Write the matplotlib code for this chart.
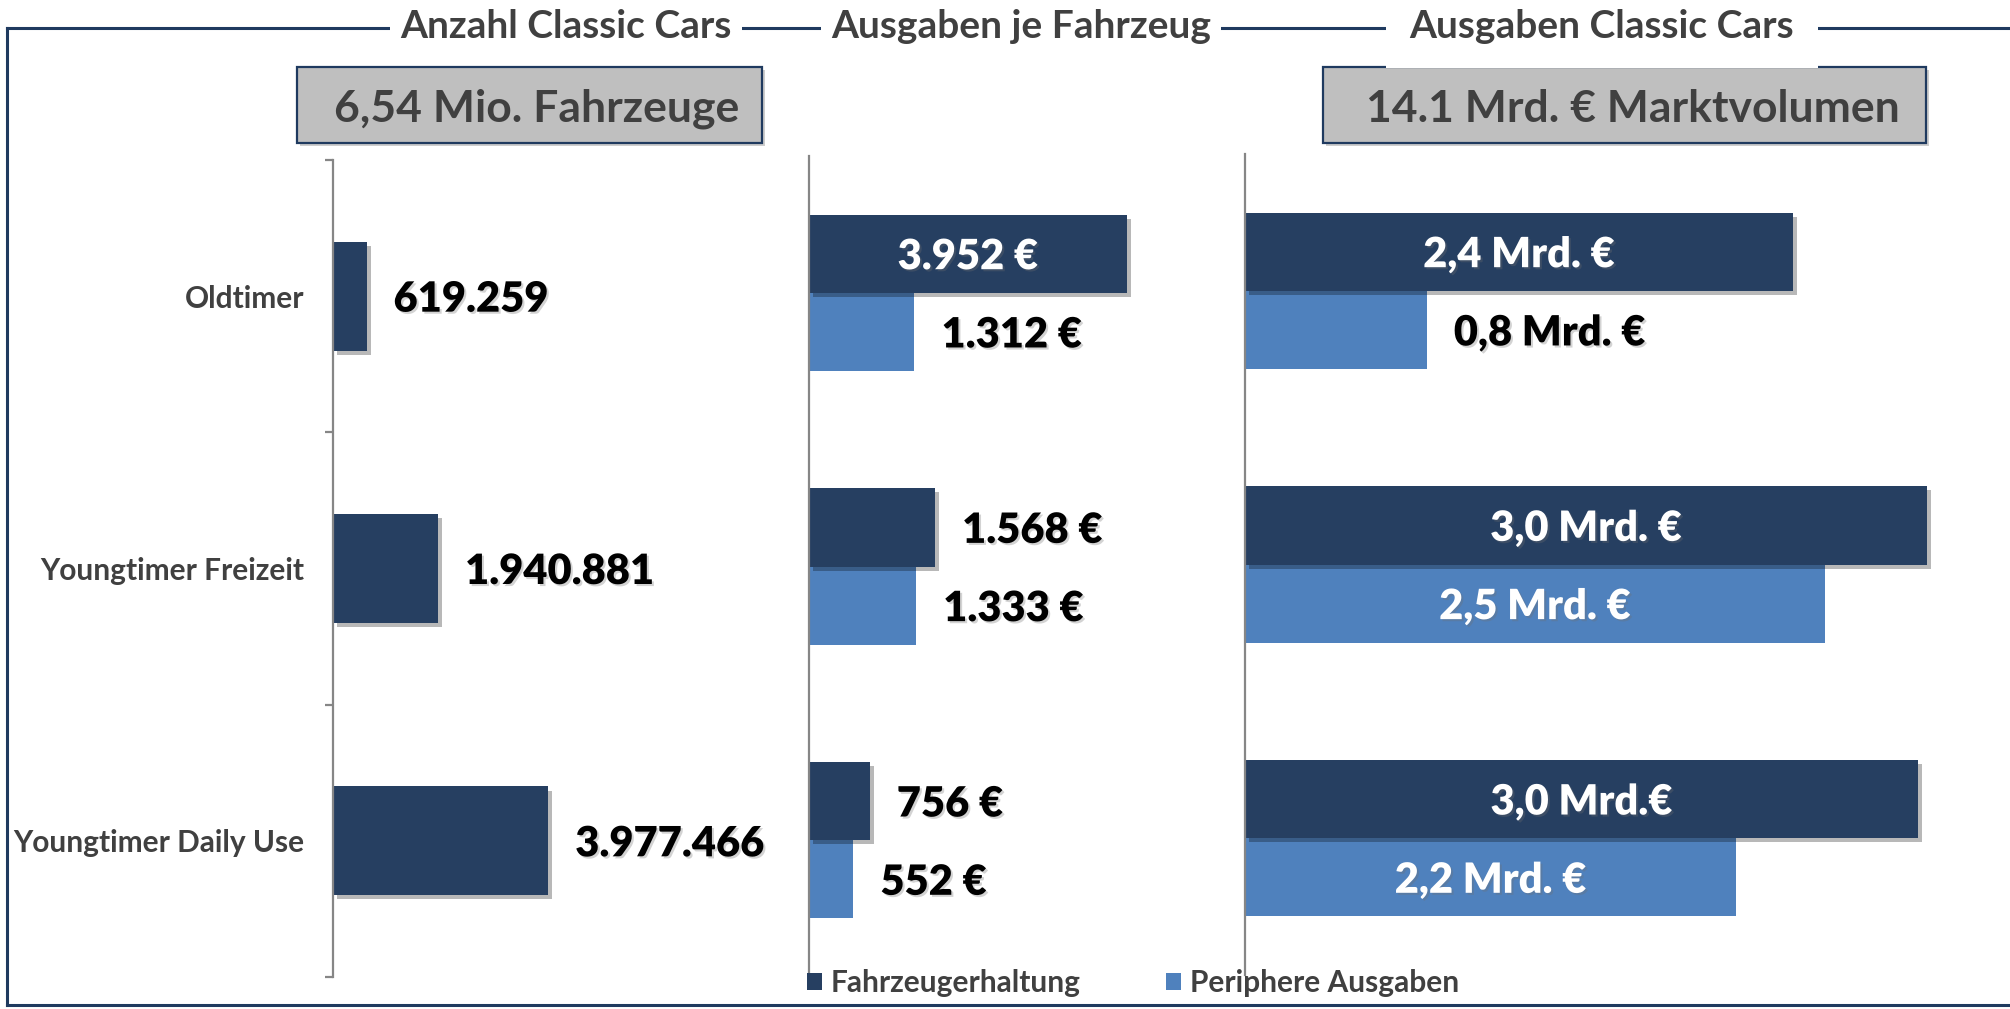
import matplotlib
matplotlib.use("Agg")
import matplotlib.pyplot as plt
from matplotlib import patheffects as pe
from matplotlib.patches import Rectangle, Patch
from matplotlib.lines import Line2D

plt.rcParams['font.family'] = ['Lato', 'DejaVu Sans']

# ---------------- data ----------------
categories = ["Oldtimer", "Youngtimer Freizeit", "Youngtimer Daily Use"]
vehicle_counts = [619259, 1940881, 3977466]

spend_per_vehicle_upkeep = [3952, 1568, 756]        # Fahrzeugerhaltung (EUR)
spend_per_vehicle_periph = [1312, 1333, 552]        # Periphere Ausgaben (EUR)

market_upkeep = [2.41, 3.00, 2.96]                  # Mrd. EUR
market_periph = [0.80, 2.55, 2.16]                  # Mrd. EUR
market_upkeep_labels = ["2,4 Mrd. €", "3,0 Mrd. €", "3,0 Mrd.€"]
market_periph_labels = ["0,8 Mrd. €", "2,5 Mrd. €", "2,2 Mrd. €"]

panel_titles = ["Anzahl Classic Cars", "Ausgaben je Fahrzeug", "Ausgaben Classic Cars"]
box_texts = ["6,54 Mio. Fahrzeuge", "14.1 Mrd. € Marktvolumen"]
legend_labels = ["Fahrzeugerhaltung", "Periphere Ausgaben"]

# ---------------- style ----------------
DARK = "#263F61"
LIGHT = "#4F81BD"
GRAYTXT = "#404040"
FRAME = "#1F3A5F"
AXISGRAY = "#868686"
VAL_FS = 30
VAL_W = "heavy"

W, H = 2010, 1009
fig = plt.figure(figsize=(W / 100, H / 100), dpi=100)


def rect(x0, y0, x1, y1):
    return [x0 / W, 1 - y1 / H, (x1 - x0) / W, (y1 - y0) / H]


def fx(x):
    return x / W


def fy(y):
    return 1 - y / H


PX = 0.72  # points per pixel at 100 dpi
bar_shadow = [pe.SimplePatchShadow(offset=(3, -3), shadow_rgbFace="black", alpha=0.28), pe.Normal()]
txt_shadow = [pe.SimplePatchShadow(offset=(1.5, -1.5), shadow_rgbFace="#707070", alpha=0.3), pe.Normal()]


def style_axis(ax):
    for s in ["top", "right", "bottom"]:
        ax.spines[s].set_visible(False)
    ax.spines["left"].set_color(AXISGRAY)
    ax.spines["left"].set_linewidth(1.6)
    ax.set_xticks([])


def put_label(ax, v, yy, s, inside):
    if inside:
        t = ax.text(v / 2, yy, s, ha="center", va="center_baseline", fontsize=VAL_FS,
                    fontweight=VAL_W, color="white")
    else:
        t = ax.annotate(s, xy=(v, yy), xytext=(27 * PX, 0), textcoords="offset points",
                        ha="left", va="center_baseline", fontsize=VAL_FS, fontweight=VAL_W,
                        color="black")
    t.set_path_effects(txt_shadow)


# ---------------- panel 1 ----------------
ax1 = fig.add_axes(rect(333, 160, 800, 977))
pos = list(range(len(categories)))
bars1 = ax1.barh(pos, vehicle_counts, height=0.4, color=DARK)
for b in bars1:
    b.set_path_effects(bar_shadow)
ax1.set_ylim(2.5, -0.5)
ax1.set_xlim(0, 8.63e6)
style_axis(ax1)
ax1.set_yticks(pos)
ax1.set_yticklabels(categories, fontsize=21.5, fontweight="bold", color=GRAYTXT)
ax1.tick_params(axis="y", which="major", length=0, pad=29 * PX)
ax1.set_yticks([-0.5, 0.5, 1.5, 2.5], minor=True)
ax1.tick_params(axis="y", which="minor", length=8 * PX, width=1.6, color=AXISGRAY, direction="out")
for i, v in enumerate(vehicle_counts):
    put_label(ax1, v, i, f"{v:,}".replace(",", "."), False)

# ---------------- panel 2 ----------------
ax2 = fig.add_axes(rect(809, 156, 1245, 977))
h = 0.286
p_up = [p - h / 2 for p in pos]
p_lo = [p + h / 2 for p in pos]
ax2.barh(p_lo, spend_per_vehicle_periph, height=h, color=LIGHT)
b2d = ax2.barh(p_up, spend_per_vehicle_upkeep, height=h, color=DARK)
for b in b2d:
    b.set_path_effects(bar_shadow)
ax2.set_ylim(2.5, -0.5)
ax2.set_xlim(0, 5423)
style_axis(ax2)
ax2.set_yticks([])


def eur(v):
    return f"{v:,} €".replace(",", ".")


for i in pos:
    for vals, yy in ((spend_per_vehicle_upkeep, p_up[i]), (spend_per_vehicle_periph, p_lo[i])):
        v = vals[i]
        put_label(ax2, v, yy, eur(v), v > 2500)

# ---------------- panel 3 ----------------
ax3 = fig.add_axes(rect(1245, 154, 2010, 975))
ax3.barh(p_lo, market_periph, height=h, color=LIGHT)
b3d = ax3.barh(p_up, market_upkeep, height=h, color=DARK)
for b in b3d:
    b.set_path_effects(bar_shadow)
ax3.set_ylim(2.5, -0.5)
ax3.set_xlim(0, 3.366)
style_axis(ax3)
ax3.set_yticks([])
for i in pos:
    for vals, labs, yy in ((market_upkeep, market_upkeep_labels, p_up[i]),
                           (market_periph, market_periph_labels, p_lo[i])):
        put_label(ax3, vals[i], yy, labs[i], vals[i] > 1.5)

# ---------------- frame + titles ----------------
fw = 2.2
fig.add_artist(Line2D([fx(7), fx(7)], [fy(28), fy(1005)], color=FRAME, lw=fw, transform=fig.transFigure))
fig.add_artist(Line2D([fx(7), fx(2010)], [fy(28), fy(28)], color=FRAME, lw=fw, transform=fig.transFigure))
fig.add_artist(Line2D([fx(7), fx(2010)], [fy(1005), fy(1005)], color=FRAME, lw=fw, transform=fig.transFigure))

title_x = [566, 1021, 1602]
title_pad = [0.27, 0.25, 0.62]
for tx, tt, tp in zip(title_x, panel_titles, title_pad):
    fig.text(fx(tx), fy(38), tt, ha="center", va="baseline", fontsize=28, fontweight="bold",
             color=GRAYTXT, bbox=dict(boxstyle=f"square,pad={tp}", fc="white", ec="none"), zorder=5)

# summary boxes
box_geo = [(297, 67, 762, 143, 537), (1323, 67, 1926, 143, 1633)]
for (x0, y0, x1, y1, tx), bt in zip(box_geo, box_texts):
    r = Rectangle((fx(x0), fy(y1)), fx(x1) - fx(x0), fy(y0) - fy(y1), transform=fig.transFigure,
                  fc="#BFBFBF", ec=FRAME, lw=1.6,
                  path_effects=[pe.SimplePatchShadow(offset=(2, -2), alpha=0.25), pe.Normal()])
    fig.add_artist(r)
    fig.text(fx(tx), fy((y0 + y1) / 2), bt, ha="center", va="center_baseline", fontsize=32,
             fontweight="bold", color=GRAYTXT)

# legend
handles = [Patch(facecolor=DARK, edgecolor="none"), Patch(facecolor=LIGHT, edgecolor="none")]
fig.legend(handles, legend_labels, loc="center left", bbox_to_anchor=(fx(807), fy(983)),
           ncol=2, frameon=False, handlelength=0.5, handleheight=0.5, handletextpad=0.3,
           columnspacing=2.85, borderpad=0, borderaxespad=0,
           prop=dict(family=['Lato', 'DejaVu Sans'], weight="bold", size=21.5), labelcolor=GRAYTXT)

fig.savefig("out.png", dpi=100, facecolor="white")
